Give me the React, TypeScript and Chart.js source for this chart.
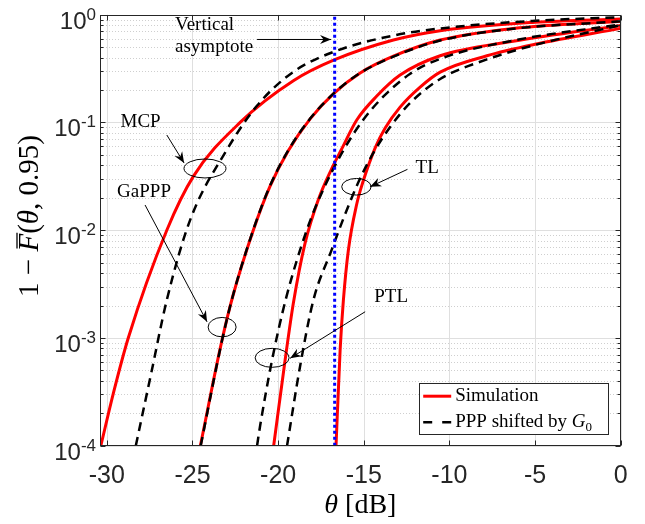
import React, { useEffect, useRef } from "react";
import { Chart, registerables } from "chart.js";

Chart.register(...registerables);

// ---------- axes ----------
const xMin = -30.4;
const xMax = 0;
const yMin = 1e-4;
const yMax = 1;
const xTickValues = [-30, -25, -20, -15, -10, -5, 0];
const xTickLabels = ["-30", "-25", "-20", "-15", "-10", "-5", "0"];
const yTickExponents = [-4, -3, -2, -1, 0];
const yTickLabels = ["-4", "-3", "-2", "-1", "0"];
const asymptoteTheta = -16.7;

// ---------- data (theta in dB, value = 1 - F(theta, 0.95)) ----------
const mcpSimTheta = [-30.35, -29.6, -28.75, -26.5, -24.95, -22.22, -19.11, -16.73, -13.27, -10.54, -5.0, 0];
const mcpSimValue = [1e-4, 3.16e-4, 1e-3, 1e-2, 3.16e-2, 0.1, 0.2438, 0.38, 0.582, 0.711, 0.851, 0.912];
const mcpPppTheta = [-28.31, -27.4, -26.5, -25.14, -23.0, -21.25, -19.11, -16.73, -13.27, -10.54, -5.0, 0];
const mcpPppValue = [1e-4, 4.79e-4, 2.25e-3, 1.24e-2, 5.55e-2, 0.142, 0.295, 0.454, 0.641, 0.745, 0.879, 0.946];

const gapppSimTheta = [-24.54, -23.29, -22.66, -21.45, -20.47, -19.4, -18.13, -16.73, -15.21, -13.27, -10.54, -6.28, 0];
const gapppSimValue = [1e-4, 9.33e-4, 2.4e-3, 1e-2, 2.57e-2, 5.5e-2, 0.108, 0.187, 0.288, 0.412, 0.582, 0.745, 0.871];
const gapppPppTheta = [-24.52, -23.28, -22.66, -21.46, -20.48, -19.41, -18.14, -16.74, -15.22, -13.27, -10.54, -6.28, 0];
const gapppPppValue = [1e-4, 9.4e-4, 2.4e-3, 1e-2, 2.57e-2, 5.5e-2, 0.108, 0.187, 0.287, 0.408, 0.576, 0.74, 0.868];

const ptlSimTheta = [-20.26, -19.6, -19.11, -18.43, -17.65, -16.87, -16.28, -15.41, -14.24, -12.88, -10.54, -6.28, 0];
const ptlSimValue = [1e-4, 6.11e-4, 2.11e-3, 7.55e-3, 1.93e-2, 3.73e-2, 5.71e-2, 0.1054, 0.1758, 0.2754, 0.4159, 0.5675, 0.7943];
const ptlPppTheta = [-21.23, -21.06, -20.37, -19.54, -18.33, -17.45, -16.19, -15.02, -13.85, -12.29, -10.54, -6.28, 0];
const ptlPppValue = [1e-4, 1.5e-4, 6.07e-4, 2.33e-3, 1.0e-2, 2.23e-2, 5.5e-2, 0.1064, 0.1742, 0.2831, 0.3899, 0.5754, 0.8128];

const tlSimTheta = [-16.62, -16.38, -16.19, -15.9, -15.41, -15.07, -14.34, -13.75, -12.88, -11.71, -10.54, -7.81, -5.01, 0];
const tlSimValue = [1e-4, 7.78e-4, 2.24e-3, 6.52e-3, 1.75e-2, 2.74e-2, 5.78e-2, 8.87e-2, 0.1387, 0.2128, 0.2931, 0.4159, 0.5309, 0.7464];
const tlPppTheta = [-19.48, -18.72, -17.94, -16.87, -16.19, -15.31, -14.44, -13.46, -12.29, -10.54, -7.81, -5.01, 0];
const tlPppValue = [1e-4, 5.44e-4, 2.25e-3, 6.6e-3, 1.28e-2, 2.8e-2, 5.21e-2, 9.08e-2, 0.1517, 0.2529, 0.3846, 0.5236, 0.799];

// ---------- annotations (data coordinates) ----------
const annotationEllipses = [
  { x: -24.27, y: 0.0374, rx: 21, ry: 9.5 },
  { x: -23.27, y: 1.26e-3, rx: 14, ry: 9.7 },
  { x: -20.35, y: 6.54e-4, rx: 17, ry: 9.5 },
  { x: -15.43, y: 0.0253, rx: 14.7, ry: 8.3 },
];
const annotationArrows = [
  { x1: -21.23, y1: 0.589, x2: -16.91, y2: 0.589 },
  { x1: -26.5, y1: 0.0765, x2: -25.49, y2: 0.042 },
  { x1: -27.77, y1: 0.01714, x2: -24.15, y2: 1.41e-3 },
  { x1: -14.92, y1: 1.75e-3, x2: -19.3, y2: 6.47e-4 },
  { x1: -12.45, y1: 0.0367, x2: -14.63, y2: 0.0253 },
];
const annotationLabels = [
  { text: "Vertical", x: -26.02, y: 0.8, align: "left" },
  { text: "asymptote", x: -26.02, y: 0.501, align: "left" },
  { text: "MCP", x: -28.03, y: 0.101, align: "center" },
  { text: "GaPPP", x: -27.83, y: 0.0228, align: "center" },
  { text: "PTL", x: -13.4, y: 2.41e-3, align: "center" },
  { text: "TL", x: -11.3, y: 0.0375, align: "center" },
];
const legendLabels = ["Simulation", "PPP shifted by "];

const AXIS = "#262626";
const SERIF = '"Liberation Serif", "Times New Roman", serif';
const SANS = '"Liberation Sans", Arial, Helvetica, sans-serif';

type Seg = { t: string; f: string; dy?: number };

function segWidth(ctx: CanvasRenderingContext2D, segs: Seg[]) {
  let w = 0;
  for (const s of segs) {
    ctx.font = s.f;
    w += ctx.measureText(s.t).width;
  }
  return w;
}
function drawSegs(ctx: CanvasRenderingContext2D, segs: Seg[], x: number, y: number) {
  let cx = x;
  const xs: number[] = [];
  for (const s of segs) {
    ctx.font = s.f;
    xs.push(cx);
    ctx.fillText(s.t, cx, y + (s.dy || 0));
    cx += ctx.measureText(s.t).width;
  }
  return xs;
}

function arrow(ctx: CanvasRenderingContext2D, x1: number, y1: number, x2: number, y2: number) {
  ctx.beginPath();
  ctx.moveTo(x1, y1);
  ctx.lineTo(x2, y2);
  ctx.stroke();
  const ang = Math.atan2(y2 - y1, x2 - x1);
  const ux = Math.cos(ang), uy = Math.sin(ang);
  const nx = -uy, ny = ux;
  const L = 11, W = 4.5, B = 3.5;
  ctx.beginPath();
  ctx.moveTo(x2, y2);
  ctx.lineTo(x2 - L * ux + W * nx, y2 - L * uy + W * ny);
  ctx.lineTo(x2 - (L - B) * ux, y2 - (L - B) * uy);
  ctx.lineTo(x2 - L * ux - W * nx, y2 - L * uy - W * ny);
  ctx.closePath();
  ctx.fill();
}

const framePlugin = {
  id: "matlabFrame",
  beforeDatasetsDraw(chart: any) {
    const { ctx, chartArea: a, scales } = chart;
    const x = scales.x, y = scales.y;
    ctx.save();
    ctx.lineWidth = 1;
    // minor y grid (dotted)
    ctx.strokeStyle = "rgba(38,38,38,0.22)";
    ctx.setLineDash([1, 2]);
    for (const d of yTickExponents) {
      if (d >= 0) continue;
      for (let m = 2; m <= 9; m++) {
        const py = Math.round(y.getPixelForValue(m * Math.pow(10, d))) + 0.5;
        ctx.beginPath();
        ctx.moveTo(a.left, py);
        ctx.lineTo(a.right, py);
        ctx.stroke();
      }
    }
    // major grid
    ctx.setLineDash([]);
    ctx.strokeStyle = "#dfdfdf";
    for (const v of xTickValues) {
      const px = Math.round(x.getPixelForValue(v)) + 0.5;
      ctx.beginPath();
      ctx.moveTo(px, a.top);
      ctx.lineTo(px, a.bottom);
      ctx.stroke();
    }
    for (const d of yTickExponents) {
      const py = Math.round(y.getPixelForValue(Math.pow(10, d))) + 0.5;
      ctx.beginPath();
      ctx.moveTo(a.left, py);
      ctx.lineTo(a.right, py);
      ctx.stroke();
    }
    ctx.restore();
  },
  afterDatasetsDraw(chart: any) {
    const { ctx, chartArea: a, scales } = chart;
    const x = scales.x, y = scales.y;
    ctx.save();
    // box
    ctx.strokeStyle = AXIS;
    ctx.lineWidth = 1;
    const L = Math.round(a.left) + 0.5, R = Math.round(a.right) - 0.5;
    const T = Math.round(a.top) + 0.5, B = Math.round(a.bottom) - 0.5;
    ctx.strokeRect(L, T, R - L, B - T);
    // ticks
    ctx.beginPath();
    for (const v of xTickValues) {
      const px = Math.round(x.getPixelForValue(v)) + 0.5;
      ctx.moveTo(px, B); ctx.lineTo(px, B - 5);
      ctx.moveTo(px, T); ctx.lineTo(px, T + 5);
    }
    for (const d of yTickExponents) {
      const py = Math.round(y.getPixelForValue(Math.pow(10, d))) + 0.5;
      ctx.moveTo(L, py); ctx.lineTo(L + 5, py);
      ctx.moveTo(R, py); ctx.lineTo(R - 5, py);
      if (d < 0) {
        for (let m = 2; m <= 9; m++) {
          const pm = Math.round(y.getPixelForValue(m * Math.pow(10, d))) + 0.5;
          ctx.moveTo(L, pm); ctx.lineTo(L + 3, pm);
          ctx.moveTo(R, pm); ctx.lineTo(R - 3, pm);
        }
      }
    }
    ctx.stroke();

    // x tick labels
    ctx.fillStyle = AXIS;
    ctx.font = `25px ${SANS}`;
    ctx.textAlign = "center";
    ctx.textBaseline = "alphabetic";
    xTickValues.forEach((v, i) => {
      ctx.fillText(xTickLabels[i], x.getPixelForValue(v), a.bottom + 37);
    });
    // y tick labels 10^n
    ctx.textAlign = "left";
    yTickExponents.forEach((d, i) => {
      const py = y.getPixelForValue(Math.pow(10, d));
      const segs: Seg[] = [
        { t: "10", f: `24px ${SANS}`, dy: 14 },
        { t: yTickLabels[i], f: `17px ${SANS}`, dy: 5 },
      ];
      const w = segWidth(ctx, segs);
      drawSegs(ctx, segs, a.left - 4 - w, py);
    });

    // axis titles
    ctx.fillStyle = "#000";
    ctx.textBaseline = "middle";
    {
      const segs: Seg[] = [
        { t: "θ", f: `italic 28px ${SERIF}` },
        { t: " [dB]", f: `28px ${SERIF}` },
      ];
      const w = segWidth(ctx, segs);
      drawSegs(ctx, segs, (a.left + a.right) / 2 - w / 2, 506);
    }
    {
      ctx.save();
      ctx.translate(30, 216);
      ctx.rotate(-Math.PI / 2);
      const fs = 29;
      const segs: Seg[] = [
        { t: "1 − ", f: `${fs}px ${SERIF}` },
        { t: "F", f: `italic ${fs}px ${SERIF}` },
        { t: "(", f: `${fs}px ${SERIF}` },
        { t: "θ", f: `italic ${fs}px ${SERIF}` },
        { t: ", 0.95)", f: `${fs}px ${SERIF}` },
      ];
      const w = segWidth(ctx, segs);
      const xs = drawSegs(ctx, segs, -w / 2, 0);
      ctx.font = `italic ${fs}px ${SERIF}`;
      const fw = ctx.measureText("F").width;
      ctx.lineWidth = 1.3;
      ctx.strokeStyle = "#000";
      ctx.beginPath();
      ctx.moveTo(xs[1] + 3, -13);
      ctx.lineTo(xs[1] + fw + 1, -13);
      ctx.stroke();
      ctx.restore();
    }

    // annotations
    ctx.strokeStyle = "#000";
    ctx.fillStyle = "#000";
    ctx.lineWidth = 1;
    for (const e of annotationEllipses) {
      ctx.beginPath();
      ctx.ellipse(x.getPixelForValue(e.x), y.getPixelForValue(e.y), e.rx, e.ry, 0, 0, Math.PI * 2);
      ctx.stroke();
    }
    for (const ar of annotationArrows) {
      arrow(ctx, x.getPixelForValue(ar.x1), y.getPixelForValue(ar.y1), x.getPixelForValue(ar.x2), y.getPixelForValue(ar.y2));
    }
    ctx.font = `19px ${SERIF}`;
    ctx.textBaseline = "middle";
    for (const lb of annotationLabels) {
      ctx.textAlign = lb.align as CanvasTextAlign;
      ctx.fillText(lb.text, x.getPixelForValue(lb.x), y.getPixelForValue(lb.y));
    }

    // legend
    const lw = 189, lh = 51;
    const lx = a.right - 12.5 - lw, ly = a.bottom - 11.5 - lh;
    ctx.fillStyle = "#fff";
    ctx.fillRect(lx, ly, lw, lh);
    ctx.strokeStyle = AXIS;
    ctx.lineWidth = 1;
    ctx.strokeRect(Math.round(lx) + 0.5, Math.round(ly) + 0.5, lw, lh);
    const r1 = ly + 13, r2 = ly + 39;
    ctx.strokeStyle = "#ff0000";
    ctx.lineWidth = 3;
    ctx.beginPath();
    ctx.moveTo(lx + 4, r1);
    ctx.lineTo(lx + 32, r1);
    ctx.stroke();
    ctx.strokeStyle = "#000";
    ctx.lineWidth = 2.5;
    ctx.setLineDash([9, 10]);
    ctx.beginPath();
    ctx.moveTo(lx + 4, r2);
    ctx.lineTo(lx + 32, r2);
    ctx.stroke();
    ctx.setLineDash([]);
    ctx.fillStyle = "#000";
    ctx.textAlign = "left";
    ctx.textBaseline = "middle";
    ctx.font = `19px ${SERIF}`;
    ctx.fillText(legendLabels[0], lx + 36, r1);
    const segs: Seg[] = [
      { t: legendLabels[1], f: `19px ${SERIF}` },
      { t: "G", f: `italic 19px ${SERIF}` },
      { t: "0", f: `13px ${SERIF}`, dy: 5 },
    ];
    drawSegs(ctx, segs, lx + 36, r2);
    ctx.restore();
  },
};

function pts(xs: number[], ys: number[]) {
  return xs.map((v, i) => ({ x: v, y: ys[i] }));
}

export default function App() {
  const ref = useRef<HTMLCanvasElement>(null);
  useEffect(() => {
    const canvas = ref.current!;
    const red = (xs: number[], ys: number[]) => ({
      data: pts(xs, ys),
      borderColor: "#ff0000",
      borderWidth: 3,
      pointRadius: 0,
      fill: false,
      cubicInterpolationMode: "monotone" as const,
      order: 3,
    });
    const dash = (xs: number[], ys: number[]) => ({
      data: pts(xs, ys),
      borderColor: "#000000",
      borderWidth: 2.5,
      borderDash: [9, 6],
      pointRadius: 0,
      fill: false,
      cubicInterpolationMode: "monotone" as const,
      order: 2,
    });
    const chart = new Chart(canvas, {
      type: "line",
      data: {
        datasets: [
          {
            data: [
              { x: asymptoteTheta, y: yMin },
              { x: asymptoteTheta, y: yMax },
            ],
            borderColor: "#0000ff",
            borderWidth: 3,
            borderDash: [3, 3],
            pointRadius: 0,
            fill: false,
            order: 1,
          } as any,
          dash(mcpPppTheta, mcpPppValue),
          dash(gapppPppTheta, gapppPppValue),
          dash(ptlPppTheta, ptlPppValue),
          dash(tlPppTheta, tlPppValue),
          red(mcpSimTheta, mcpSimValue),
          red(gapppSimTheta, gapppSimValue),
          red(ptlSimTheta, ptlSimValue),
          red(tlSimTheta, tlSimValue),
        ],
      },
      options: {
        responsive: false,
        animation: false,
        events: [],
        layout: { padding: { left: 100, top: 14.7, right: 24.3, bottom: 78.3 } },
        scales: {
          x: { type: "linear", min: xMin, max: xMax, display: false },
          y: { type: "logarithmic", min: yMin, max: yMax, display: false },
        },
        plugins: { legend: { display: false }, tooltip: { enabled: false } },
      },
      plugins: [framePlugin],
    });
    return () => chart.destroy();
  }, []);
  return (
    <div style={{ position: "absolute", left: 0, top: 0, width: 645, height: 524, background: "#fff" }}>
      <canvas ref={ref} width={645} height={524} style={{ display: "block" }} />
    </div>
  );
}
